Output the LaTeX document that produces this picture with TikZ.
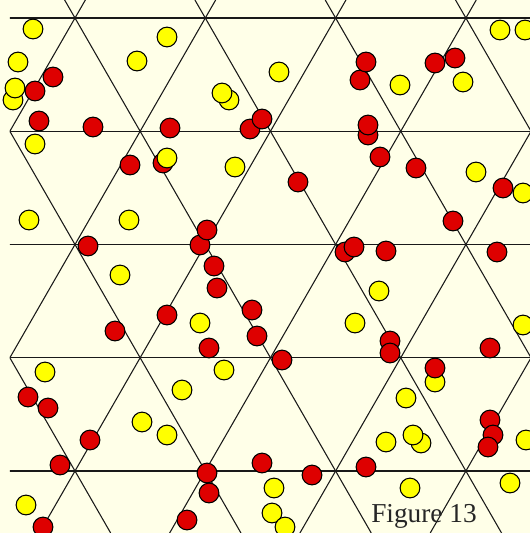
\documentclass[tikz,border=0pt]{standalone}
\usepackage{fontspec}
\setmainfont{Liberation Serif}
\definecolor{bgcream}{RGB}{255,255,232}
\definecolor{dotred}{RGB}{222,0,0}
\definecolor{dotyellow}{RGB}{255,255,0}
\begin{document}
\begin{tikzpicture}[x=0.75pt,y=-0.75pt,
  dot/.style={draw=black, line width=0.8pt},
  lattice/.style={draw=black!90, line width=0.8pt},
  caption/.style={font=\fontsize{20.5}{24}\selectfont, text=black!85, inner sep=0pt}]
\fill[bgcream] (0,0) rectangle (530,533);
\useasboundingbox (0,0) rectangle (530,533);
\begin{scope}
  \clip (9.8,0) rectangle (530,533);
  \foreach \j in {0,...,4}
    \draw[lattice] (8,18+113.25*\j) -- (530,18+113.25*\j);
  \foreach \m in {-3,...,6} {
    \draw[lattice] (85.355+130.3*\m,0) -- (-221.26+130.3*\m,533);
    \draw[lattice] (64.645+130.3*\m,0) -- (371.26+130.3*\m,533);
  }
\end{scope}
\foreach \px/\py/\c in {
  33/29/dotyellow, 167/37/dotyellow, 500/30/dotyellow, 525/30/dotyellow,
  18/62/dotyellow, 137/61/dotyellow, 279/72/dotyellow,
  13/100/dotyellow, 15/88/dotyellow,
  53/77/dotred, 35/91/dotred,
  360/80/dotred, 366/62/dotred, 435/63/dotred, 455/58/dotred,
  400/85/dotyellow, 463/82/dotyellow,
  229/100/dotyellow, 222/93/dotyellow,
  39/121/dotred, 93/127/dotred, 170/128/dotred,
  250/129/dotred, 262/119/dotred,
  368/135/dotred, 368/125/dotred,
  35/144/dotyellow,
  130/165/dotred, 163/163/dotred, 167/158/dotyellow,
  235/167/dotyellow, 380/157/dotred, 416/168/dotred, 476/172/dotyellow,
  298/182/dotred, 503/188/dotred, 523/193/dotyellow,
  29/220/dotyellow, 129/220/dotyellow, 453/221/dotred,
  200/245/dotred, 207/230/dotred, 88/246/dotred,
  345/252/dotred, 354/247/dotred, 386/251/dotred, 497/252/dotred,
  214/266/dotred, 120/275/dotyellow, 217/288/dotred, 379/291/dotyellow,
  252/310/dotred, 167/315/dotred, 200/323/dotyellow, 355/323/dotyellow,
  523/325/dotyellow, 115/331/dotred, 257/336/dotred,
  390/341/dotred, 390/353/dotred, 209/348/dotred, 490/348/dotred,
  282/360/dotred,
  45/372/dotyellow, 435/382/dotyellow, 435/368/dotred,
  224/370/dotyellow, 182/390/dotyellow,
  28/397/dotred, 48/408/dotred, 406/398/dotyellow,
  142/422/dotyellow, 167/435/dotyellow, 90/440/dotred,
  490/420/dotred, 493/435/dotred, 488/447/dotred,
  386/442/dotyellow, 421/443/dotyellow, 413/435/dotyellow, 526/440/dotyellow,
  60/465/dotred, 262/463/dotred, 207/473/dotred, 312/475/dotred, 366/467/dotred,
  209/493/dotred, 274/488/dotyellow, 410/488/dotyellow, 510/483/dotyellow,
  26/505/dotyellow, 272/513/dotyellow, 285/527/dotyellow,
  187/520/dotred, 43/527/dotred}
  \draw[dot, fill=\c] (\px,\py) circle[radius=7.4pt];
\node[caption, anchor=base west] (fig) at (371,522) {Figure 13};
\end{tikzpicture}
\end{document}
